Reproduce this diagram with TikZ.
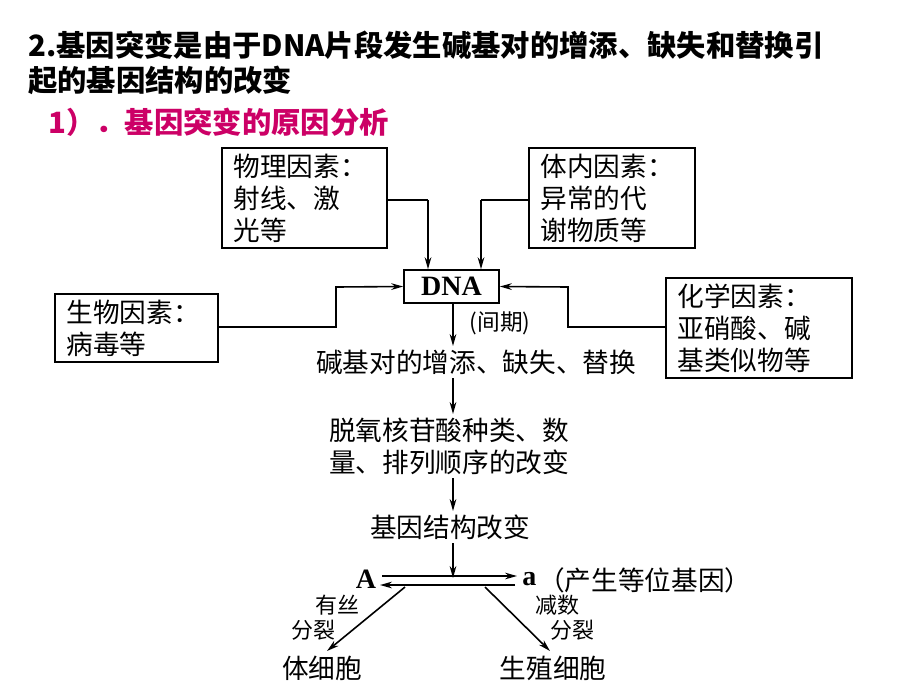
\documentclass[tikz,border=0pt]{standalone}
\usepackage{fontspec}
\setmainfont{Liberation Serif}
\newfontfamily\cjk{Noto Sans CJK SC}
\usetikzlibrary{arrows.meta}
\definecolor{mag}{RGB}{204,0,102}
\begin{document}
\begin{tikzpicture}[x=0.75pt,y=-0.75pt,
  box/.style={draw,line width=1.2pt,inner sep=0pt},
  txt/.style={font=\cjk\fontsize{20}{24}\selectfont,inner sep=0pt,align=left},
  lbl/.style={font=\cjk\fontsize{16.5}{20}\selectfont,inner sep=0pt},
  lat/.style={font=\rmfamily\bfseries\fontsize{21}{24}\selectfont,inner sep=0pt},
  ttl/.style={font=\cjk\bfseries\fontsize{22}{26}\selectfont,inner sep=0pt,anchor=west},
  arr/.style={-{Stealth[length=9pt,width=5pt]},line width=1.2pt}]
\useasboundingbox (0,0) rectangle (920,690);
\node[ttl] (t1) at (28,45) {2.基因突变是由于DNA片段发生碱基对的增添、缺失和替换引};
\node[ttl] (t2) at (28,80) {起的基因结构的改变};
\node[ttl,text=mag] (t3) at (48,122) {1）．基因突变的原因分析};
% boxes
\node[box,minimum width=165*0.75pt,minimum height=100*0.75pt] (b1) at (304.5,198) {};
\node[txt,anchor=west] at ([xshift=9pt]b1.west) {物理因素：\\射线、激\\光等};
\node[box,minimum width=166*0.75pt,minimum height=100*0.75pt] (b2) at (612,198) {};
\node[txt,anchor=west] at ([xshift=9pt]b2.west) {体内因素：\\异常的代\\谢物质等};
\node[box,minimum width=95*0.75pt,minimum height=33*0.75pt] (dna) at (451.5,286.5) {};
\node[lat] at (dna.center) {DNA};
\node[box,minimum width=163*0.75pt,minimum height=68*0.75pt] (b3) at (136.5,328) {};
\node[txt,anchor=west] at ([xshift=9pt]b3.west) {生物因素：\\病毒等};
\node[box,minimum width=186*0.75pt,minimum height=100*0.75pt] (b4) at (759,328) {};
\node[txt,anchor=west] at ([xshift=9pt]b4.west) {化学因素：\\亚硝酸、碱\\基类似物等};
\coordinate (c1) at (428,200);
\coordinate (c2) at (481,200);
\draw[line width=1.2pt] (b1.east|-c1) -- (c1);
\draw[arr] (c1) -- (c1|-dna.north);
\draw[line width=1.2pt] (b2.west|-c2) -- (c2);
\draw[arr] (c2) -- (c2|-dna.north);
\coordinate (c3) at (336,327);
\coordinate (c4) at (568,327);
\draw[arr] (b3.east|-c3) -- (c3) -- (336,287) -- (dna.west);
\draw[arr] (b4.west|-c4) -- (c4) -- (568,287) -- (dna.east);
% chain
\node[txt] (s1) at (476,362) {碱基对的增添、缺失、替换};
\node[txt,font=\cjk\fontsize{17}{20}\selectfont] (iq) at (500,323) {(间期)};
\draw[arr] (453,303) -- (453,346);
\node[txt] (s2) at (449,446) {脱氧核苷酸种类、数\\量、排列顺序的改变};
\draw[arr] (453,378) -- (453,414);
\node[txt] (s3) at (450,527) {基因结构改变};
\draw[arr] (453,478) -- (453,511);
\draw[arr] (453,543) -- (453,578);
\node[lat] (A) at (366,579) {A};
\node[lat,anchor=west] (a) at (522,579) {a};
\node[txt,anchor=west] (ap) at (538,580) {（产生等位基因）};
\draw[arr] (382,576) -- (517,576);
\draw[arr] (515,585) -- (380,585);
\node[lbl] (l1) at (337,605) {有丝};
\node[lbl] (l2) at (313,630) {分裂};
\node[lbl] (r1) at (557,605) {减数};
\node[lbl] (r2) at (572,630) {分裂};
\node[txt] (n1) at (322,668) {体细胞};
\node[txt] (n2) at (553,668) {生殖细胞};
\draw[arr] (405,587) -- (327,651);
\draw[arr] (485,587) -- (550,651);
\end{tikzpicture}
\end{document}
